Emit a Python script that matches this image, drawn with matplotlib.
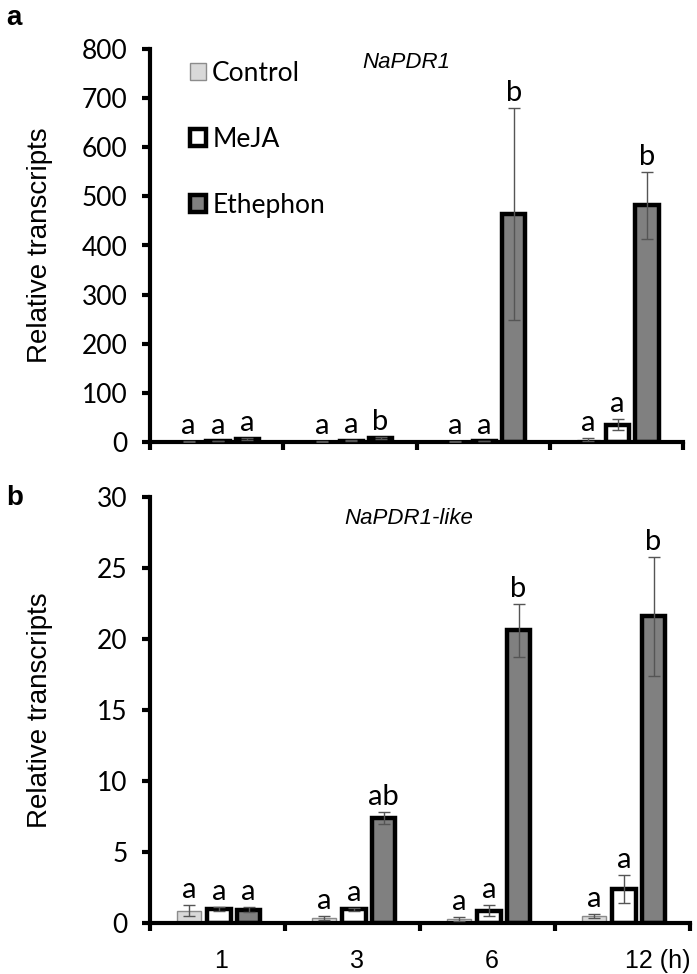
import matplotlib
matplotlib.use('Agg')
import matplotlib.pyplot as plt
import numpy as np

# data
hours = ['1', '3', '6', '12 (h)']
treatments = ['Control', 'MeJA', 'Ethephon']

pdr1_mean = {
    'Control': [0.8, 0.8, 0.8, 5],
    'MeJA': [2, 3, 2, 35],
    'Ethephon': [6, 9, 464, 482],
}
pdr1_err = {
    'Control': [0.3, 0.3, 0.3, 3],
    'MeJA': [0.5, 0.8, 0.5, 11],
    'Ethephon': [1.5, 2, 215, 68],
}
pdr1_letters = {
    'Control': ['a', 'a', 'a', 'a'],
    'MeJA': ['a', 'a', 'a', 'a'],
    'Ethephon': ['a', 'b', 'b', 'b'],
}

like_mean = {
    'Control': [0.87, 0.36, 0.28, 0.5],
    'MeJA': [1.0, 0.96, 0.87, 2.4],
    'Ethephon': [0.95, 7.4, 20.6, 21.6],
}
like_err = {
    'Control': [0.37, 0.13, 0.12, 0.12],
    'MeJA': [0.12, 0.08, 0.38, 1.0],
    'Ethephon': [0.2, 0.4, 1.87, 4.2],
}
like_letters = {
    'Control': ['a', 'a', 'a', 'a'],
    'MeJA': ['a', 'a', 'a', 'a'],
    'Ethephon': ['a', 'ab', 'b', 'b'],
}

# styles
face = {'Control': '#d9d9d9', 'MeJA': '#ffffff', 'Ethephon': '#808080'}
edge = {'Control': '#8c8c8c', 'MeJA': '#000000', 'Ethephon': '#000000'}
elw = {'Control': 1.0, 'MeJA': 3.2, 'Ethephon': 3.2}
offset = {'Control': -0.21, 'MeJA': 0.01, 'Ethephon': 0.23}
bar_w = 0.175

txt_font = 'Lato'
arial = 'Liberation Sans'

fig = plt.figure(figsize=(6.97, 9.74), dpi=100)
ax1 = fig.add_axes([150/697, 1-442/974, 533/697, 393/974])
ax2 = fig.add_axes([150/697, 1-923/974, 540/697, 426/974])


def draw(ax, means, errs, letters, ymax, ystep, title, title_y):
    x = np.arange(len(hours))
    bars = {}
    for t in treatments:
        xs = x + offset[t]
        bars[t] = ax.bar(xs, means[t], width=bar_w, color=face[t],
                         edgecolor=edge[t], linewidth=elw[t], zorder=2)
        ax.errorbar(xs, means[t], yerr=errs[t], fmt='none', ecolor='#555555',
                    elinewidth=1, capsize=4, capthick=1, zorder=3)
        for xi, m, e, lab in zip(xs, means[t], errs[t], letters[t]):
            ax.annotate(lab, (xi, m + e), xytext=(0, 1.5), textcoords='offset points',
                        ha='center', va='bottom', fontsize=21, family=txt_font)
    ax.set_xlim(-0.5, len(hours) - 0.5)
    ax.set_ylim(0, ymax)
    ax.set_yticks(np.arange(0, ymax + 1, ystep))
    ax.set_xticks(np.arange(len(hours) + 1) - 0.5)
    ax.set_xticklabels([])
    for s in ['top', 'right']:
        ax.spines[s].set_visible(False)
    for s in ['left', 'bottom']:
        ax.spines[s].set_linewidth(3)
    ax.tick_params(axis='both', which='major', direction='out', length=6, width=3)
    ax.tick_params(axis='y', pad=10)
    for lb in ax.get_yticklabels():
        lb.set_fontsize(19)
        lb.set_family(txt_font)
    ax.set_ylabel('Relative transcripts', fontsize=20, family=arial)
    ax.text(0.48, title_y, title, transform=ax.transAxes, ha='center', va='center',
            fontsize=16, style='italic', family=arial)
    return bars


bars = draw(ax1, pdr1_mean, pdr1_err, pdr1_letters, 800, 100, 'NaPDR1', 0.965)
draw(ax2, like_mean, like_err, like_letters, 30, 5, 'NaPDR1-like', 0.95)
ax1.yaxis.set_label_coords(-0.182, 0.5)
ax2.yaxis.set_label_coords(-0.179, 0.5)

# hour labels under the lower panel
lab_x = [0.03, 1.03, 2.03, 3.26]
ax2.set_xticks(lab_x, minor=True)
ax2.set_xticklabels(hours, minor=True, fontsize=18, family=arial)
ax2.tick_params(axis='x', which='minor', length=0, pad=19)

ax1.legend([bars[t] for t in treatments], treatments, loc='upper left',
           bbox_to_anchor=(0.03, 1.03), frameon=False, prop={'family': txt_font, 'size': 19},
           handlelength=0.6, handleheight=0.6, handletextpad=0.25, labelspacing=1.55)

fig.text(6/697, 1-18/974, 'a', fontsize=20, fontweight='bold', family=arial, va='center')
fig.text(6/697, 1-498/974, 'b', fontsize=20, fontweight='bold', family=arial, va='center')

fig.savefig('out.png', dpi=100)
